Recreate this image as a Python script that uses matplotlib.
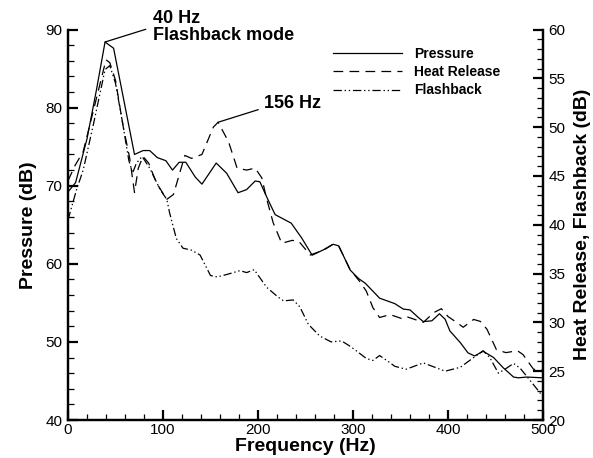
import numpy as np
import matplotlib.pyplot as plt
from matplotlib.ticker import MultipleLocator

plt.rcParams['font.family'] = ['Liberation Sans', 'DejaVu Sans']
plt.rcParams['lines.scale_dashes'] = False

# pressure spectrum (left axis, dB)
freq_p = [0, 8, 20, 30, 39, 48, 70, 79, 86, 94, 103, 110, 117, 124, 134, 141,
          156, 167, 179, 188, 197, 202, 209, 218, 235, 246, 257, 269, 279, 285,
          297, 306, 313, 328, 344, 353, 360, 369, 374, 383, 391, 397, 402, 413,
          421, 428, 437, 448, 458, 469, 474, 483, 500]
pressure = [69.2, 70.4, 76.0, 82.3, 88.4, 87.6, 74.0, 74.5, 74.5, 73.6, 73.2,
            72.0, 73.0, 73.0, 71.1, 70.2, 72.9, 71.6, 69.1, 69.5, 70.6, 70.5,
            68.6, 66.3, 65.2, 63.3, 61.1, 61.8, 62.5, 62.3, 59.2, 58.1, 57.5,
            55.6, 54.9, 54.2, 54.1, 53.1, 52.6, 52.7, 53.6, 52.9, 51.4, 49.9,
            48.6, 48.2, 48.8, 48.0, 46.7, 45.5, 45.4, 45.5, 45.4]

# heat release spectrum (right axis, dB)
freq_h = [0, 7, 16, 27, 40, 44, 50, 58, 65, 70, 74, 79, 85, 93, 104, 111, 123,
          130, 141, 153, 158, 169, 178, 188, 197, 204, 209, 216, 225, 236, 243,
          255, 269, 279, 285, 297, 307, 314, 321, 328, 339, 351, 356, 374, 385,
          393, 400, 409, 416, 427, 434, 441, 451, 461, 473, 479, 490, 500]
heat = [44.5, 46.0, 47.5, 51.8, 56.9, 56.6, 54.8, 50.1, 46.8, 43.3, 45.8, 47.0,
        46.3, 44.3, 42.6, 43.1, 47.1, 46.8, 47.2, 50.0, 50.5, 48.5, 45.8, 45.6,
        45.8, 44.8, 42.7, 40.2, 38.1, 38.4, 38.3, 36.9, 37.4, 38.0, 37.8, 35.4,
        34.2, 33.2, 31.5, 30.5, 30.8, 30.4, 30.6, 30.0, 31.0, 31.4, 30.6, 30.0,
        29.5, 30.3, 30.1, 29.3, 27.2, 26.9, 27.1, 26.7, 25.2, 25.1]

# flashback spectrum (right axis, dB)
freq_f = [0, 9, 16, 27, 39, 44, 50, 57, 64, 68, 72, 78, 86, 92, 97, 104, 107,
          114, 121, 130, 139, 150, 157, 167, 181, 188, 196, 209, 221, 227, 237,
          244, 253, 265, 277, 288, 297, 304, 314, 321, 328, 337, 344, 356, 374,
          397, 413, 427, 437, 444, 453, 460, 469, 476, 486, 500]
flashback = [40.5, 43.6, 45.6, 50.4, 55.9, 56.3, 54.5, 50.7, 46.6, 45.3, 46.3,
             47.0, 45.8, 44.6, 43.6, 42.6, 41.2, 38.6, 37.6, 37.4, 36.9, 34.8,
             34.65, 34.9, 35.3, 35.1, 35.4, 33.6, 32.6, 32.2, 32.3, 31.6, 29.8,
             28.6, 28.0, 28.1, 27.55, 27.05, 26.3, 26.1, 26.6, 26.0, 25.5, 25.2,
             25.85, 25.0, 25.4, 26.4, 27.1, 26.4, 24.8, 25.2, 25.8, 25.3, 24.1,
             22.4]

fig = plt.figure(figsize=(5.93, 4.58), dpi=100)
ax = fig.add_axes([68/593, 38/458, 475/593, 390.5/458])
ax2 = ax.twinx()

l1, = ax.plot(freq_p, pressure, color='black', lw=0.9, label='Pressure')
l2, = ax2.plot(freq_h, heat, color='black', lw=0.9, dashes=(7, 4.5),
               label='Heat Release')
l3, = ax2.plot(freq_f, flashback, color='black', lw=0.9,
               dashes=(6, 2, 1, 2, 1, 2), label='Flashback')

ax.set_xlim(0, 500)
ax.set_ylim(40, 90)
ax2.set_ylim(20, 60)

for a in (ax, ax2):
    a.spines['top'].set_visible(False)
    for s in ('left', 'right', 'bottom'):
        a.spines[s].set_linewidth(1.6)
    a.tick_params(which='both', direction='in', labelsize=11)
    a.tick_params(which='major', length=7.5, width=1.6)
    a.tick_params(which='minor', length=4.5, width=0.9)

ax.xaxis.set_major_locator(MultipleLocator(100))
ax.xaxis.set_minor_locator(MultipleLocator(20))
ax.yaxis.set_major_locator(MultipleLocator(10))
ax.yaxis.set_minor_locator(MultipleLocator(2))
ax2.yaxis.set_major_locator(MultipleLocator(5))
ax2.yaxis.set_minor_locator(MultipleLocator(1))
ax.tick_params(axis='x', pad=2)
ax.tick_params(axis='y', pad=4)
ax2.tick_params(axis='y', pad=4)

ax.set_xlabel('Frequency (Hz)', fontsize=14, fontweight='bold', labelpad=1)
ax.set_ylabel('Pressure (dB)', fontsize=14, fontweight='bold', labelpad=6)
ax2.set_ylabel('Heat Release, Flashback (dB)', fontsize=14, fontweight='bold',
               labelpad=6)

ax.annotate('40 Hz\nFlashback mode', xy=(39, 88.4), xytext=(89, 90.3),
            fontsize=13, fontweight='bold', ha='left', va='center',
            linespacing=0.95, annotation_clip=False,
            arrowprops=dict(arrowstyle='-', lw=0.9, color='black',
                            relpos=(0, 0.5), shrinkA=3, shrinkB=0))
ax2.annotate('156 Hz', xy=(158, 50.5), xytext=(206, 52.4),
             fontsize=13, fontweight='bold', ha='left', va='center',
             arrowprops=dict(arrowstyle='-', lw=0.9, color='black',
                             relpos=(0, 0.25), shrinkA=2, shrinkB=0))

ax2.legend(handles=[l1, l2, l3], loc='upper left',
           bbox_to_anchor=(0.558, 0.955), frameon=False, borderpad=0,
           borderaxespad=0, handlelength=5.0, handletextpad=0.85,
           labelspacing=0.3, prop={'size': 10, 'weight': 'bold'})

fig.savefig('out.png', dpi=100)
